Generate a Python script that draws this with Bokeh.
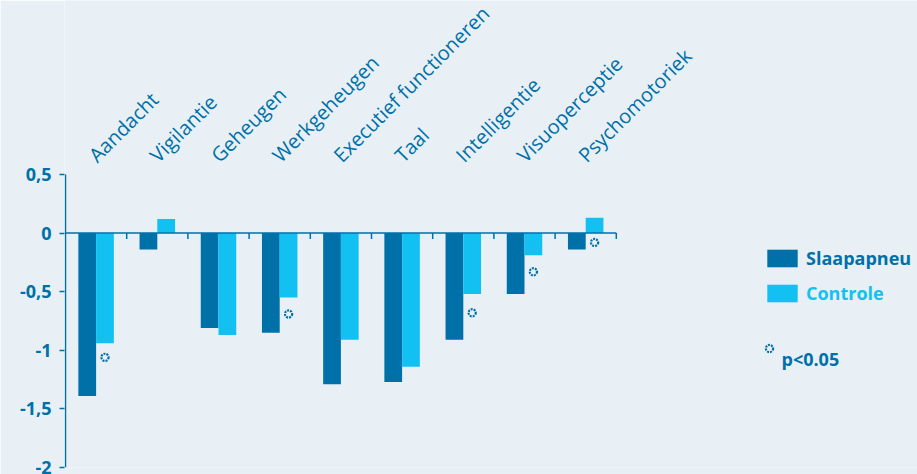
import math
from bokeh.plotting import figure
from bokeh.models import (ColumnDataSource, Range1d, FixedTicker, Label,
                          Legend, LegendItem)
from bokeh.embed import file_html
from bokeh.resources import INLINE
from bokeh.core.properties import value

# ---------------- data ----------------
categories = ["Aandacht", "Vigilantie", "Geheugen", "Werkgeheugen",
              "Executief functioneren", "Taal", "Intelligentie",
              "Visuoperceptie", "Psychomotoriek"]
slaapapneu = [-1.39, -0.14, -0.81, -0.85, -1.29, -1.27, -0.91, -0.52, -0.14]
controle = [-0.94, 0.12, -0.87, -0.55, -0.91, -1.14, -0.52, -0.19, 0.13]
sig_categories = ["Aandacht", "Werkgeheugen", "Intelligentie",
                  "Visuoperceptie", "Psychomotoriek"]
sig_marker_y = [-1.06, -0.69, -0.68, -0.33, -0.08]
y_ticks = [-2.0, -1.5, -1.0, -0.5, 0.0, 0.5]
y_tick_labels = ["-2", "-1,5", "-1", "-0,5", "0", "0,5"]
series_labels = ["Slaapapneu", "Controle"]
sig_label = "p<0.05"

# ---------------- style ----------------
BG = "#E8F0F5"
DARK = "#0070A8"
LIGHT = "#12C1F2"
FONT = "Open Sans"

W, H = 917, 474
BL, BR, BB = 64, 0, 7
frame_w = W - BL - BR
frame_h = H - BB
axis_top_px = 174          # screen y of the top tick (0.5)
cat_px = 61.2
bar_w = 0.29
off = bar_w / 2
n = len(categories)

px_per_unit = (frame_h - axis_top_px) / (y_ticks[-1] - y_ticks[0])
y_end = y_ticks[-1] + axis_top_px / px_per_unit
x_start = -1 / cat_px
x_end = x_start + frame_w / cat_px

p = figure(width=W, height=H, output_backend="svg", toolbar_location=None,
           x_range=Range1d(x_start, x_end), y_range=Range1d(y_ticks[0], y_end),
           x_axis_location=None, min_border_left=BL, min_border_right=BR,
           min_border_top=0, min_border_bottom=BB)
p.background_fill_color = BG
p.border_fill_color = BG
p.outline_line_color = None
p.grid.grid_line_color = None

centers = [i + 0.5 for i in range(n)]
src = ColumnDataSource(dict(
    xd=[c - off for c in centers],
    xl=[c + off for c in centers],
    sa=slaapapneu, co=controle,
))

r_dark = p.vbar(x="xd", top="sa", bottom=0, width=bar_w, source=src,
                fill_color=DARK, line_color=None)
r_light = p.vbar(x="xl", top="co", bottom=0, width=bar_w, source=src,
                 fill_color=LIGHT, line_color=None)

# axis lines (left axis line and zero line) with category boundary ticks
tick_len = 6 / px_per_unit
p.segment(x0=[0], y0=[y_ticks[0]], x1=[0], y1=[y_ticks[-1]],
          line_color=DARK, line_width=1.5)
p.segment(x0=[0], y0=[0], x1=[n], y1=[0], line_color=DARK, line_width=1.5)
p.segment(x0=list(range(1, n + 1)), y0=[0] * n, x1=list(range(1, n + 1)),
          y1=[-tick_len] * n, line_color=DARK, line_width=1.5)

# significance markers
sig_x = [categories.index(c) + 0.5 + off for c in sig_categories]
r_sig = p.scatter(x=sig_x, y=sig_marker_y, marker="circle", size=7.2,
                  fill_color=None, line_color=DARK, line_width=2.2,
                  line_dash=value("2 1"))

# y axis (ticks and labels; its line is drawn above as a segment)
ax = p.yaxis[0]
ax.ticker = FixedTicker(ticks=y_ticks)
ax.major_label_overrides = {t: l for t, l in zip(y_ticks, y_tick_labels)}
ax.axis_line_color = None
ax.major_tick_line_color = DARK
ax.major_tick_line_width = 1.5
ax.major_tick_out = 5
ax.major_tick_in = 0
ax.minor_tick_line_color = None
ax.major_label_standoff = 8
ax.major_label_text_font = FONT
ax.major_label_text_font_size = "18px"
ax.major_label_text_font_style = "bold"
ax.major_label_text_color = DARK

# category labels above the bars
label_y = y_ticks[-1] + 16 / px_per_unit
p.text(x=centers, y=[label_y] * n, text=categories, angle=math.pi / 4,
       x_offset=-4, text_align="left", text_baseline="alphabetic",
       text_font=value(FONT), text_font_size="20px", text_color=DARK)


def mk_legend(item, loc, gw, gh, color, standoff=5):
    lg = Legend(items=[item], location=loc, orientation="vertical",
                glyph_width=gw, glyph_height=gh, label_height=gh,
                padding=0, margin=0, spacing=0, label_standoff=standoff,
                border_line_color=None, background_fill_alpha=0,
                label_text_font=FONT, label_text_font_size="18px",
                label_text_font_style="bold", label_text_color=color)
    p.add_layout(lg)
    return lg


mk_legend(LegendItem(label=series_labels[0], renderers=[r_dark]),
          (699, 197), 38, 22, DARK)
mk_legend(LegendItem(label=series_labels[1], renderers=[r_light]),
          (699, 162), 38, 22, LIGHT)
mk_legend(LegendItem(label=" ", renderers=[r_sig]),
          (696, 110), 18, 18, DARK, standoff=0)
p.add_layout(Label(x=781 - BL, y=frame_h - 358, x_units="screen",
                   y_units="screen", text=sig_label, text_font=FONT,
                   text_font_size="18px", text_font_style="bold",
                   text_color=DARK, text_baseline="alphabetic"))

open("out.html", "w").write(file_html(p, INLINE))
